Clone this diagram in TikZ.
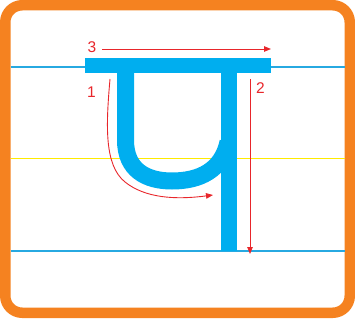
\documentclass[tikz,border=0pt]{standalone}
\usepackage{fontspec}
\setmainfont{Liberation Sans}
\usetikzlibrary{arrows.meta}

\definecolor{frameorange}{HTML}{F58220}
\definecolor{letterblue}{HTML}{00AEEF}
\definecolor{guideblue}{HTML}{27A9E1}
\definecolor{guideyellow}{HTML}{FFEB00}
\definecolor{strokered}{HTML}{E8262B}

\tikzset{
    guide/.style={line width=1.6pt},
    letter/.style={letterblue, line width=17pt},
    strokearrow/.style={strokered, line width=0.9pt, -{Triangle[length=7pt,width=5.5pt]}},
    stepnum/.style={strokered, inner sep=0pt, font=\fontsize{15.5}{15.5}\selectfont}
}

\begin{document}
\begin{tikzpicture}[x=1pt, y=-1pt]
    \useasboundingbox (0,0) rectangle (355,326);

    % Frame
    \draw[frameorange, line width=10.5pt, rounded corners=17pt] (5.25,5.25) rectangle (349.75,312.75);

    % Guide lines
    \draw[guide, guideblue] (10.5,67) -- (344.5,67);
    \draw[guide, guideyellow] (10.5,158.5) -- (344.5,158.5);
    \draw[guide, guideblue] (10.5,251) -- (344.5,251);

    % The letter
    \draw[letter] (125.5,66) -- (125.5,140)
        .. controls (125.5,170) and (146,181) .. (172,181)
        .. controls (200,181) and (222,170) .. (228,142);
    \fill[letterblue] (221,66) rectangle (237,251);
    \fill[letterblue] (85,58) rectangle (271,73);

    % Stroke numbers
    \node[stepnum] (n1) at (91.5,92) {1};
    \node[stepnum] (n2) at (260.5,88) {2};
    \node[stepnum] (n3) at (92,47) {3};

    % Stroke arrows
    \coordinate (s1) at (110,79);
    \coordinate (e1) at (213,195);
    \coordinate (s2) at (250,79);
    \coordinate (e2) at (250,254);
    \coordinate (s3) at (102,49);
    \coordinate (e3) at (271,49);
    \draw[strokearrow] (s1) .. controls (106,125) and (104,165) .. (125,182)
        .. controls (145,198) and (175,200) .. (e1);
    \draw[strokearrow] (s2) -- (e2);
    \draw[strokearrow] (s3) -- (e3);
\end{tikzpicture}
\end{document}
